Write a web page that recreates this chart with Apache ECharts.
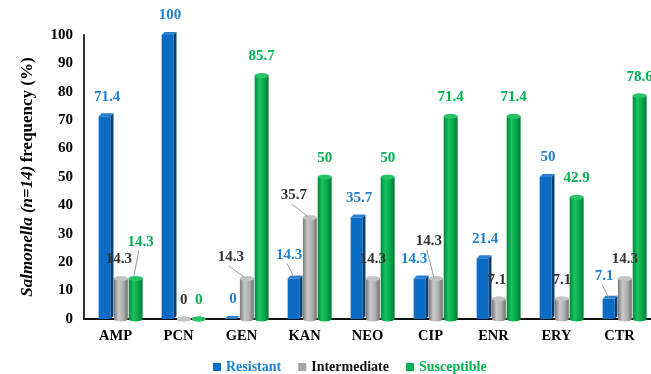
<!DOCTYPE html>
<html>
<head>
<meta charset="utf-8">
<script src="https://cdn.jsdelivr.net/npm/echarts@6/dist/echarts.min.js"></script>
<style>
  html, body { margin: 0; padding: 0; background: #fff; }
  #chart { width: 651px; height: 374px; }
</style>
</head>
<body>
<div id="chart"></div>
<script>
const categories = ['AMP', 'PCN', 'GEN', 'KAN', 'NEO', 'CIP', 'ENR', 'ERY', 'CTR']
const resistant = [71.4, 100, 0, 14.3, 35.7, 14.3, 21.4, 50, 7.1]
const intermediate = [14.3, 0, 14.3, 35.7, 14.3, 14.3, 7.1, 7.1, 14.3]
const susceptible = [14.3, 0, 85.7, 50, 50, 71.4, 71.4, 42.9, 78.6]

// label nudges [dx, dy, leader line] so the crowded labels sit like in the original
const resistantNudge = [null, null, null, [-7, -4, 1], null, [-8, 0, 0], null, null, [-7, -3, 1]]
const intermediateNudge = [[-2, 0, 0], null, [-16, -2, 1], [-16, -3, 1], null, [-7, -18, 1], [-2, 0, 0], null, null]
const susceptibleNudge = [[5, -17, 1], null, null, null, null, null, null, null, null]

const serif = 'Liberation Serif'
const chart = echarts.init(document.getElementById('chart'))

const hGrad = (stops) => new echarts.graphic.LinearGradient(0, 0, 1, 0,
  stops.map((c, i) => ({ offset: i / (stops.length - 1), color: c })))

function labelParts(v, x, bottom, barTop, color, nudge) {
  const n = nudge || [0, 0, 0]
  const parts = [
    { type: 'text', x: x + n[0], y: bottom + n[1], z2: 100,
      style: { text: String(v), fill: color, font: 'bold 15px "Liberation Serif"',
        align: 'center', verticalAlign: 'bottom' } }
  ]
  if (n[2]) {
    parts.push({ type: 'line', z2: 90,
      shape: { x1: x + n[0] - 2, y1: bottom + n[1] + 1, x2: x - 2, y2: barTop },
      style: { stroke: '#9a9a9a', lineWidth: 1 } })
  }
  return parts
}

// 3d box for the Resistant series
function renderBox(params, api) {
  const idx = api.value(0)
  const v = api.value(1)
  const top = api.coord([idx, v])
  const base = api.coord([idx, 0])
  const band = api.size([1, 0])[0]
  const unit = band * 0.235
  const cx = top[0] + band * 0.085 - unit
  const w = unit * 0.8
  const d = 3
  const x0 = cx - unit / 2
  return {
    type: 'group',
    children: [
      { type: 'rect', shape: { x: x0, y: top[1], width: w, height: base[1] - top[1] },
        style: { fill: '#0a6cc4' } },
      { type: 'polygon', shape: { points: [[x0 + w, top[1]], [x0 + w + d, top[1] - d], [x0 + w + d, base[1] - d], [x0 + w, base[1]]] },
        style: { fill: '#0b3f73' } },
      { type: 'polygon', shape: { points: [[x0, top[1]], [x0 + d, top[1] - d], [x0 + w + d, top[1] - d], [x0 + w, top[1]]] },
        style: { fill: '#2a7fcf' } }
    ].concat(labelParts(v, cx + 1, top[1] - d - 9, top[1] - 1, '#1f80d2', resistantNudge[idx]))
  }
}

// cylinder for Intermediate / Susceptible
function makeCylinder(slot, colors, capColor, labelColor, nudges) {
  return function (params, api) {
    const idx = api.value(0)
    const v = api.value(1)
    const top = api.coord([idx, v])
    const base = api.coord([idx, 0])
    const band = api.size([1, 0])[0]
    const unit = band * 0.235
    const cx = top[0] + band * 0.085 + slot * unit
    const rx = unit * 0.47
    const ry = 2.5
    return {
      type: 'group',
      children: [
        { type: 'circle', x: cx, y: base[1], scaleY: ry / rx, shape: { cx: 0, cy: 0, r: rx },
          style: { fill: hGrad(colors) } },
        { type: 'rect', shape: { x: cx - rx, y: top[1], width: rx * 2, height: base[1] - top[1] },
          style: { fill: hGrad(colors) } },
        { type: 'circle', x: cx, y: top[1], scaleY: ry / rx, shape: { cx: 0, cy: 0, r: rx },
          style: { fill: capColor } }
      ].concat(labelParts(v, cx, top[1] - 11.5, top[1] - 1, labelColor, nudges[idx]))
    }
  }
}

const toData = (arr) => arr.map((v, i) => [i, v])
const legendText = (color) => ({ color: color, fontFamily: serif, fontWeight: 'bold', fontSize: 14 })

const option = {
  animation: false,
  grid: { left: 84, right: 0, top: 35, bottom: 55 },
  legend: {
    left: 208,
    top: 355,
    itemWidth: 8,
    itemHeight: 8,
    itemGap: 17,
    icon: 'rect',
    textStyle: legendText('#111'),
    data: [
      { name: 'Resistant', textStyle: legendText('#1f80d2') },
      { name: 'Intermediate', textStyle: legendText('#111') },
      { name: 'Susceptible', textStyle: legendText('#00b050') }
    ]
  },
  xAxis: {
    type: 'category',
    data: categories,
    axisLine: { lineStyle: { color: '#111', width: 2 } },
    axisTick: { show: false },
    axisLabel: { color: '#000', fontFamily: serif, fontWeight: 'bold', fontSize: 14.5, margin: 10 }
  },
  yAxis: {
    type: 'value',
    min: 0,
    max: 100,
    interval: 10,
    axisLine: { show: true, lineStyle: { color: '#333', width: 2 } },
    axisTick: { show: false },
    splitLine: { show: false },
    axisLabel: { color: '#000', fontFamily: serif, fontWeight: 'bold', fontSize: 15, margin: 11 },
    name: '{i|Salmonella (n=14)} {b|frequency (%)}',
    nameLocation: 'middle',
    nameRotate: 90,
    nameGap: 48,
    nameTextStyle: {
      rich: {
        i: { fontFamily: serif, fontWeight: 'bold', fontStyle: 'italic', fontSize: 17, color: '#000' },
        b: { fontFamily: serif, fontWeight: 'bold', fontSize: 17, color: '#000' }
      }
    }
  },
  series: [
    { name: 'Resistant', type: 'custom', color: '#0a6cc4', renderItem: renderBox,
      encode: { x: 0, y: 1 }, data: toData(resistant) },
    { name: 'Intermediate', type: 'custom', color: '#a6a6a6',
      renderItem: makeCylinder(0, ['#7a7a7a', '#c8c8c8', '#b0b0b0', '#6f6f6f'], '#c4c4c4', '#333', intermediateNudge),
      encode: { x: 0, y: 1 }, data: toData(intermediate) },
    { name: 'Susceptible', type: 'custom', color: '#00b050',
      renderItem: makeCylinder(1, ['#00873c', '#19c35f', '#06a84a', '#007a35'], '#27c466', '#00b050', susceptibleNudge),
      encode: { x: 0, y: 1 }, data: toData(susceptible) }
  ]
}

chart.setOption(option)
</script>
</body>
</html>
